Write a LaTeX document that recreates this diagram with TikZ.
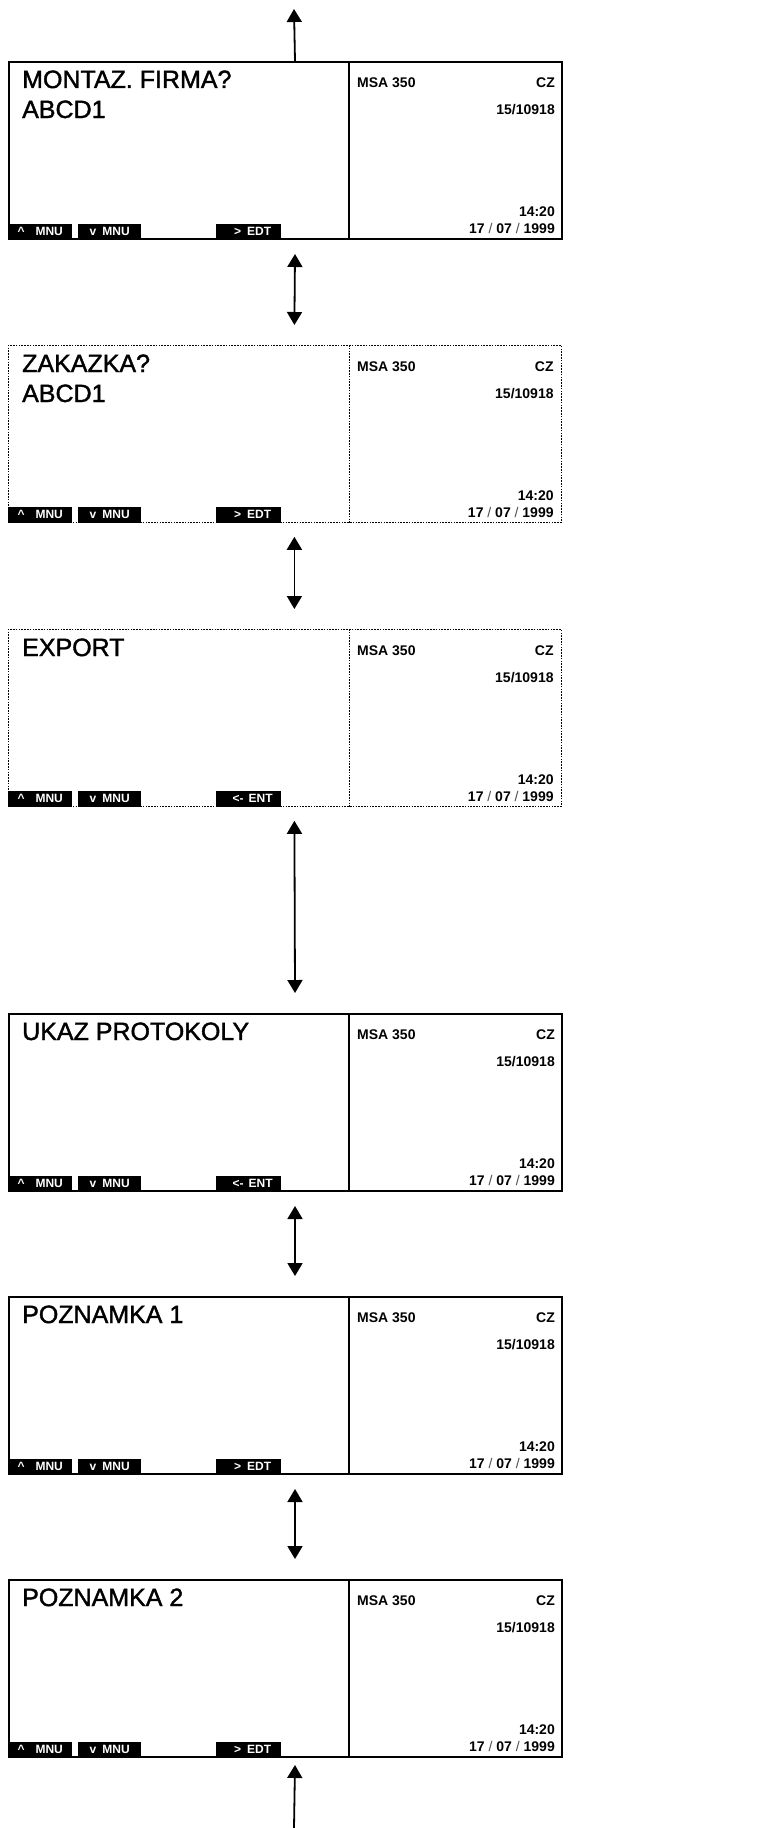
\documentclass[tikz,border=0pt]{standalone}
\usepackage{fontspec}
\setmainfont{Liberation Sans}
\newfontfamily\lcdfont[FakeBold=1.5]{Liberation Sans}
\usetikzlibrary{arrows.meta,positioning,calc}
\tikzset{
  lcd/.style={draw,line width=2pt,minimum width=553pt,minimum height=177pt,
    anchor=north west,inner sep=0pt},
  lcddot/.style={draw,line width=0.8pt,dash pattern=on 1.6pt off 1.2pt,
    minimum width=553pt,minimum height=177pt,anchor=north west,inner sep=0pt},
  dots/.style={line width=0.8pt,dash pattern=on 1.6pt off 1.2pt},
  title/.style={anchor=base west,inner sep=0pt,font=\lcdfont\fontsize{25}{25}\selectfont},
  info/.style={anchor=base east,inner sep=0pt,font=\bfseries\fontsize{14}{14}\selectfont},
  key/.style={fill=black,text=white,anchor=south west,inner sep=0pt,
    minimum height=16pt,font=\bfseries\fontsize{12}{12}\selectfont},
  updown/.style={{Triangle[length=13pt,width=15pt]}-{Triangle[length=13pt,width=15pt]},
    line width=1.8pt},
  uparr/.style={-{Triangle[length=13pt,width=15pt]},line width=1.8pt}
}

\begin{document}
\begin{tikzpicture}[x=1pt,y=-1pt]
\useasboundingbox (0,0) rectangle (764,1828);

% Screens
\foreach \n/\ytop/\la/\lb/\kc/\frm/\dv in {
  1/61/MONTAZ. FIRMA?/ABCD1/{>\hspace{6pt}EDT}/lcd/solid,
  2/345/ZAKAZKA?/ABCD1/{>\hspace{6pt}EDT}/lcddot/dots,
  3/629/EXPORT//{<-\hspace{5pt}ENT}/lcddot/dots,
  4/1013/UKAZ PROTOKOLY//{<-\hspace{5pt}ENT}/lcd/solid,
  5/1296/POZNAMKA 1//{>\hspace{6pt}EDT}/lcd/solid,
  6/1579/POZNAMKA 2//{>\hspace{6pt}EDT}/lcd/solid}{
  \node[\frm] (s\n) at (8,\ytop) {};
  \draw[line width=1.5pt,\dv] ($(s\n.north west)+(341,0)$) -- ($(s\n.south west)+(341,0)$);
  % left part
  \node[title] (ta\n) at ($(s\n.north west)+(14,27)$) {\la};
  \node[title] (tb\n) at ($(s\n.north west)+(14,57)$) {\lb};
  \node[key,minimum width=64pt] (ka\n) at (s\n.south west) {\textasciicircum\hspace{11pt}MNU};
  \node[key,minimum width=63pt] (kb\n) at ($(s\n.south west)+(70,0)$) {v\hspace{6pt}MNU};
  \node[key,minimum width=65pt] (kc\n) at ($(s\n.south west)+(208,0)$) {\hspace{8pt}\kc};
  % right part
  \node[info,anchor=base west] (m\n) at ($(s\n.north west)+(349,26)$) {MSA 350};
  \node[info] (c\n) at ($(s\n.north east)+(-8,26)$) {CZ};
  \node[info] (r\n) at ($(s\n.north east)+(-8,53)$) {15/10918};
  \node[info] (h\n) at ($(s\n.north east)+(-8,155)$) {14:20};
  \node[info] (d\n) at ($(s\n.north east)+(-8,172)$)
    {17 {\mdseries\color{black!70}/} 07 {\mdseries\color{black!70}/} 1999};
}

% Arrows
\coordinate (top) at (294,9);
\coordinate (bot) at (294,1828);
\draw[uparr] ([xshift=9.5pt]s1.north) -- (top);
\foreach \a/\b in {1/2,2/3,3/4,4/5,5/6}
  \draw[updown] ([xshift=9.5pt,yshift=-14pt]s\a.south) -- ([xshift=9.5pt,yshift=20pt]s\b.north);
\draw[uparr] (bot) -- ([xshift=9.5pt,yshift=-7pt]s6.south);

\end{tikzpicture}
\end{document}
